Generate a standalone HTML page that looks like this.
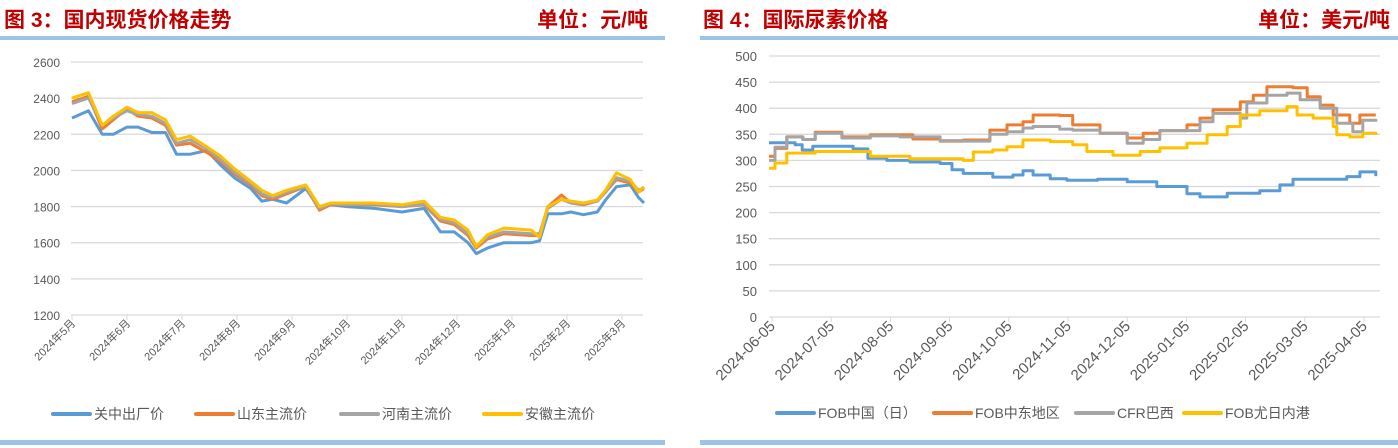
<!DOCTYPE html>
<html><head><meta charset="utf-8"><style>
body{margin:0;background:#fff;width:1398px;height:448px;overflow:hidden;font-family:"Liberation Sans","Noto Sans CJK SC",sans-serif}
svg{display:block}
</style></head><body>
<svg id="s" width="1398" height="448" xmlns="http://www.w3.org/2000/svg">
<g font-family="Liberation Sans, Noto Sans CJK SC, sans-serif" font-weight="bold" fill="#C00000" font-size="21">
<text x="4" y="27">图 3：国内现货价格走势</text>
<text x="648" y="27" text-anchor="end">单位：元/吨</text>
<text x="703" y="27">图 4：国际尿素价格</text>
<text x="1390" y="27" text-anchor="end">单位：美元/吨</text>
</g>
<rect x="0" y="36" width="665" height="4" fill="#9DC3E6"/>
<rect x="700" y="36" width="698" height="4" fill="#9DC3E6"/>
<rect x="0" y="440" width="665" height="5" fill="#9DC3E6"/>
<rect x="700" y="440" width="698" height="5" fill="#9DC3E6"/>
<g id="L"></g><g id="R"></g>
</svg>
<script>
// ---- left chart data (x = months since 2024年5月) ----
const leftTickLabels=["2024年5月","2024年6月","2024年7月","2024年8月","2024年9月","2024年10月","2024年11月","2024年12月","2025年1月","2025年2月","2025年3月"];
const leftYTicks=[1200,1400,1600,1800,2000,2200,2400,2600];
const leftDates=[0,.3,.55,.75,1,1.2,1.45,1.7,1.9,2.15,2.45,2.7,2.95,3.25,3.45,3.65,3.9,4.25,4.5,4.7,5.0,5.5,6.0,6.4,6.7,6.95,7.2,7.35,7.55,7.85,8.35,8.5,8.65,8.9,9.07,9.3,9.55,9.7,9.9,10.15,10.3,10.4];
const guanzhong=[2290,2330,2200,2200,2240,2240,2210,2210,2090,2090,2110,2030,1960,1900,1830,1840,1820,1900,1790,1810,1800,1790,1770,1790,1660,1660,1600,1540,1570,1600,1600,1610,1760,1760,1770,1755,1770,1836,1910,1920,1850,1820];
const shandong=[2380,2410,2230,2280,2340,2300,2290,2250,2140,2150,2100,2050,1980,1920,1860,1840,1870,1910,1780,1810,1810,1810,1800,1810,1720,1700,1640,1570,1620,1650,1640,1640,1800,1864,1820,1810,1830,1880,1950,1930,1880,1900];
const henan=[2370,2400,2250,2290,2330,2310,2300,2260,2150,2170,2120,2060,1990,1930,1870,1850,1880,1910,1790,1815,1810,1815,1800,1815,1730,1710,1650,1580,1630,1660,1650,1650,1790,1840,1820,1815,1830,1880,1960,1940,1890,1905];
const anhui=[2400,2430,2250,2300,2350,2320,2320,2280,2170,2190,2130,2080,2010,1940,1890,1860,1890,1920,1800,1820,1820,1820,1810,1830,1740,1725,1670,1578,1643,1681,1670,1630,1800,1840,1830,1820,1836,1890,1987,1950,1880,1910];
const leftNames=["关中出厂价","山东主流价","河南主流价","安徽主流价"];
// ---- right chart data (x = months since 2024-06-05) ----
const rightTickLabels=["2024-06-05","2024-07-05","2024-08-05","2024-09-05","2024-10-05","2024-11-05","2024-12-05","2025-01-05","2025-02-05","2025-03-05","2025-04-05"];
const rightYTicks=[0,50,100,150,200,250,300,350,400,450,500];
const chinaDates=[-.05,.39,.51,.69,1.15,1.37,1.62,1.94,2.33,2.84,3.04,3.23,3.73,4.07,4.24,4.41,4.7,4.98,5.5,6.0,6.5,7.01,7.23,7.69,8.24,8.58,8.8,9.71,9.93,10.14,10.2];
const chinaVals=[334,330,320,327,327,322,304,300,297,294,282,275,268,272,280,272,265,262,264,259,250,236,230,237,242,253,264,269,278,278,270];
const meDates=[-.05,.05,.25,.52,.73,1.18,1.66,2.16,2.38,2.84,3.23,3.68,3.97,4.24,4.41,4.86,5.08,5.54,6.0,6.27,6.55,7.01,7.23,7.45,7.91,8.13,8.36,8.8,9.04,9.26,9.48,9.76,9.93,10.2];
const meVals=[308,323,345,340,354,345,349,349,341,337,339,358,368,374,387,386,368,352,343,352,357,368,381,397,412,425,441,439,422,406,387,371,387,387];
const brDates=[-.05,.05,.25,.52,.73,1.18,1.66,2.16,2.84,3.23,3.68,3.97,4.24,4.41,4.86,5.08,5.54,6.0,6.27,6.55,7.23,7.45,7.91,8.02,8.36,8.7,8.92,9.26,9.54,9.81,9.98,10.2];
const brVals=[300,325,345,340,352,343,347,345,338,337,350,355,362,365,360,358,352,333,340,357,374,390,381,410,425,429,416,400,371,355,377,374];
const ydDates=[-.05,.05,.25,.73,1.66,2.33,3.23,3.40,3.73,3.97,4.24,4.70,5.08,5.32,5.76,6.22,6.55,7.01,7.35,7.69,7.91,8.24,8.70,8.87,9.14,9.48,9.54,9.76,9.98,10.2];
const ydVals=[285,295,314,317,308,303,300,316,320,326,339,336,330,317,310,317,324,333,349,365,387,395,403,387,381,365,349,345,352,349];
const rightNames=["FOB中国（日）","FOB中东地区","CFR巴西","FOB尤日内港"];
const colors=["#5B9BD5","#ED7D31","#A5A5A5","#FFC000"];

const NS="http://www.w3.org/2000/svg";
function mk(tag,parent,attrs){const e=document.createElementNS(NS,tag);for(const k in attrs)e.setAttribute(k,attrs[k]);parent.appendChild(e);return e;}

function drawChart(g,cfg){
  const X=m=>cfg.x0+cfg.dx*m;
  const Y=v=>cfg.yBot-(v-cfg.yMin)/(cfg.yMax-cfg.yMin)*(cfg.yBot-cfg.yTop);
  cfg.yTicks.forEach(v=>{
    const l=mk('line',g,{x1:cfg.gx0,x2:cfg.gx1,y1:Y(v),y2:Y(v),stroke:'#D9D9D9','stroke-width':1.3});
    
    
    const t=mk('text',g,{x:cfg.ylx,y:Y(v)+5,'text-anchor':'end','font-size':cfg.yfs,fill:'#595959'});
    t.textContent=v;
    
    
  });
  cfg.xLabels.forEach((s,i)=>{
    const x=X(i),y=cfg.yBot;
    const tk=mk('line',g,{x1:x,x2:x,y1:y,y2:y+5,stroke:'#D9D9D9','stroke-width':1});
    
    
    const t=mk('text',g,{x:x+4,y:y+cfg.xly,'text-anchor':'end','font-size':cfg.xfs,fill:'#595959',transform:`rotate(-45 ${x+4} ${y+cfg.xly})`});
    t.textContent=s;
    
    
  });
  cfg.series.forEach((s,i)=>{
    const arr=[];
    s.d.forEach((m,j)=>{
      if(cfg.step&&j>0)arr.push(X(m).toFixed(1)+','+Y(s.v[j-1]).toFixed(1));
      arr.push(X(m).toFixed(1)+','+Y(s.v[j]).toFixed(1));
    });
    const p=mk('polyline',g,{points:arr.join(' '),fill:'none',stroke:colors[i],'stroke-width':3,'stroke-linejoin':'round'});
    
    
  });
  cfg.series.forEach((s,i)=>{
    const lx=cfg.legX[i];
    const l=mk('line',g,{x1:lx,x2:lx+37,y1:cfg.legY,y2:cfg.legY,stroke:colors[i],'stroke-width':4,'stroke-linecap':'round'});
    
    
    const t=mk('text',g,{x:lx+41,y:cfg.legY+5,'font-size':14,fill:'#595959'});
    t.textContent=cfg.names[i];
    
    
  });
}
drawChart(document.getElementById('L'),{x0:72,dx:55,gx0:71,gx1:643,yMin:1200,yMax:2600,yTop:62,yBot:315,yTicks:leftYTicks,ylx:60,yfs:12,xLabels:leftTickLabels,xfs:11,xly:9,step:false,
  series:[{d:leftDates,v:guanzhong},{d:leftDates,v:shandong},{d:leftDates,v:henan},{d:leftDates,v:anhui}],names:leftNames,legX:[53,196,341,484],legY:414});
drawChart(document.getElementById('R'),{x0:772,dx:59.2,gx0:769,gx1:1380,yMin:0,yMax:500,yTop:56,yBot:317,yTicks:rightYTicks,ylx:757,yfs:13,xLabels:rightTickLabels,xfs:15,xly:10,step:true,
  series:[{d:chinaDates,v:chinaVals},{d:meDates,v:meVals},{d:brDates,v:brVals},{d:ydDates,v:ydVals}],names:rightNames,legX:[777,934,1076,1184],legY:413});
</script>
</body></html>
